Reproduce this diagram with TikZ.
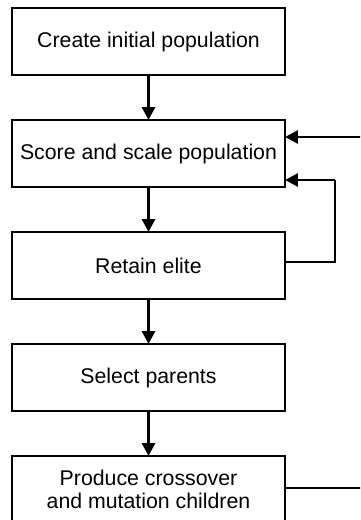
\documentclass[tikz,border=0pt]{standalone}
\usepackage{fontspec}
\setmainfont{Liberation Sans}
\usepackage{tikz}
\usetikzlibrary{positioning,arrows.meta}
\newcommand{\larg}{136.5pt}
\newcommand{\haut}{33.5pt}
\tikzstyle{boite}=[draw,line width=1.25pt,minimum width=\larg,minimum height=\haut,
  inner sep=2pt,outer sep=0pt,align=center,font=\fontsize{10.65}{11.5}\selectfont]
\tikzstyle{fleche}=[line width=1.4pt,-{Triangle[width=6.4pt,length=6.4pt]}]
\tikzstyle{lien}=[line width=1.4pt]
\begin{document}
\begin{tikzpicture}[x=0.5pt,y=-0.5pt,node distance=22.5pt]
\useasboundingbox (0,0) rectangle (360,520);
\clip (0,0) rectangle (360,520);

%boites
\node[boite] (init) at (148.5,41.5) {Create initial population};
\node[boite,below=of init] (score) {Score and scale population};
\node[boite,below=of score] (elite) {Retain elite};
\node[boite,below=of elite] (parents) {Select parents};
\node[boite,below=of parents] (enfants) {Produce crossover\\and mutation children};

%fleches
\draw[fleche] (init) -- (score);
\draw[fleche] (score) -- (elite);
\draw[fleche] (elite) -- (parents);
\draw[fleche] (parents) -- (enfants);

%boucles
\coordinate (boucle) at (335,180);
\coordinate (retour) at (380,137);
\draw[lien,join=miter] ([yshift=1.75pt]elite.east) -| (boucle);
\draw[fleche] (boucle) -- (score.east |- boucle);
\draw[lien] ([yshift=0.75pt]enfants.east) -| (retour);
\draw[fleche] (retour) -- (score.east |- retour);
\end{tikzpicture}
\end{document}
